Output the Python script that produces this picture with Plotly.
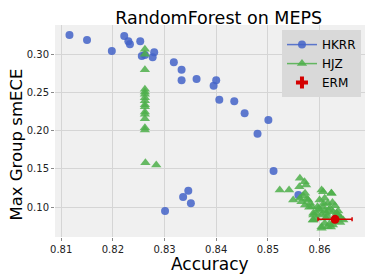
import plotly.graph_objects as go

hkrr_acc = [0.8116, 0.8150, 0.8198, 0.8222, 0.8230, 0.8233, 0.8253, 0.8256, 0.8262, 0.8277,
            0.8280, 0.8318, 0.8333, 0.8333, 0.8362, 0.8395, 0.8400, 0.8406, 0.8435, 0.8455,
            0.8501, 0.8480, 0.8511, 0.8559, 0.8346, 0.8336, 0.8351, 0.8301]
hkrr_ece = [0.3248, 0.3183, 0.3039, 0.3235, 0.3166, 0.3127, 0.3166, 0.2974, 0.2987, 0.2957,
            0.3022, 0.2892, 0.2795, 0.2657, 0.2674, 0.2586, 0.2657, 0.2404, 0.2382, 0.2226,
            0.2138, 0.1960, 0.1473, 0.1159, 0.1215, 0.1133, 0.1051, 0.0950]

hjz_acc = [0.8262, 0.8262, 0.8262, 0.8262, 0.8262, 0.8262, 0.8262, 0.8262, 0.8262, 0.8262,
           0.8262, 0.8262, 0.8262, 0.8262, 0.8262, 0.8263, 0.8284,
           0.8523, 0.8541, 0.8562, 0.8571, 0.8574, 0.8561, 0.8572, 0.8562, 0.8565, 0.8578,
           0.8582, 0.8585, 0.8588, 0.8587, 0.8607, 0.8623, 0.8600, 0.8610, 0.8616, 0.8596,
           0.8607, 0.8620, 0.8626, 0.8633, 0.8639, 0.8613, 0.8604, 0.8610, 0.8616, 0.8604,
           0.8626, 0.8646, 0.8594, 0.8594, 0.8549, 0.8572, 0.8588, 0.8588, 0.8604, 0.8623,
           0.8604, 0.8642, 0.8618, 0.8630, 0.8612, 0.8635, 0.8628, 0.8622, 0.8610, 0.8598,
           0.8615, 0.8640, 0.8625, 0.8608, 0.8619, 0.8636, 0.8601, 0.8580, 0.8576, 0.8568]
hjz_ece = [0.3061, 0.2996, 0.2795, 0.2539, 0.2504, 0.2474, 0.2430, 0.2391, 0.2338, 0.2312,
           0.2243, 0.2213, 0.2155, 0.2038, 0.2008, 0.1581, 0.1551,
           0.1225, 0.1225, 0.1377, 0.1333, 0.1290, 0.1268, 0.1181, 0.1116, 0.1072, 0.1094,
           0.1051, 0.1007, 0.0920, 0.0833, 0.1203, 0.1181, 0.1094, 0.1116, 0.1051, 0.1007,
           0.1007, 0.0986, 0.0942, 0.0920, 0.0877, 0.0920, 0.0899, 0.0790, 0.0746, 0.0725,
           0.0768, 0.0833, 0.0920, 0.0855, 0.1094, 0.1029, 0.0899, 0.0833, 0.1225, 0.1181,
           0.0746, 0.0855, 0.0960, 0.1020, 0.0860, 0.0900, 0.0810, 0.0740, 0.0950, 0.0980,
           0.0880, 0.0800, 0.1060, 0.1050, 0.0780, 0.0950, 0.0960, 0.1000, 0.1110, 0.1150]

erm_acc = [0.8630]
erm_ece = [0.0842]
erm_err = [0.0033]

BLUE = "rgba(67,99,200,0.85)"
GREEN = "rgba(77,175,74,0.85)"
RED = "#d40000"

fig = go.Figure()
fig.add_trace(go.Scatter(x=hkrr_acc, y=hkrr_ece, mode="markers", showlegend=False,
                         marker=dict(color=BLUE, size=8, line=dict(width=0))))
fig.add_trace(go.Scatter(x=hjz_acc, y=hjz_ece, mode="markers", showlegend=False,
                         marker=dict(color=GREEN, size=9, symbol="triangle-up", line=dict(width=0))))
fig.add_trace(go.Scatter(x=erm_acc, y=erm_ece, mode="markers", showlegend=False,
                         error_x=dict(type="data", array=erm_err, color=RED, thickness=1.5, width=2),
                         marker=dict(color=RED, size=9)))
# legend entries
fig.add_trace(go.Scatter(x=[None], y=[None], mode="lines+markers", name="HKRR",
                         line=dict(color=BLUE, width=1.5), marker=dict(color=BLUE, size=8)))
fig.add_trace(go.Scatter(x=[None], y=[None], mode="lines+markers", name="HJZ",
                         line=dict(color=GREEN, width=1.5),
                         marker=dict(color=GREEN, size=9, symbol="triangle-up")))
fig.add_trace(go.Scatter(x=[None], y=[None], mode="markers", name="ERM",
                         marker=dict(color=RED, size=10, symbol="cross")))

# the page body has an 8px margin, so the figure is 8px smaller and offset
fig.update_layout(
    width=366, height=272,
    margin=dict(l=47, r=9, t=17, b=43, autoexpand=False),
    paper_bgcolor="white", plot_bgcolor="#f0f0f0",
    font=dict(family="DejaVu Sans", color="#222222"),
    title=dict(text="RandomForest on MEPS", x=0.5756, xanchor="center", y=0.962, yanchor="middle",
               font=dict(size=17.5, color="black")),
    legend=dict(x=0.987, y=0.976, xanchor="right", yanchor="top", bgcolor="#d9d9d9",
                font=dict(size=12, color="black"), itemwidth=30, tracegroupgap=0,
                borderwidth=0),
    annotations=[
        dict(text="Accuracy", xref="paper", yref="paper", x=0.5, y=-0.125,
             xanchor="center", yanchor="middle", showarrow=False,
             font=dict(size=17, color="black")),
        dict(text="Max Group smECE", xref="paper", yref="paper", x=-0.124, y=0.434,
             xanchor="center", yanchor="middle", showarrow=False, textangle=-90,
             font=dict(size=16.5, color="black")),
    ],
)
fig.update_xaxes(range=[0.8088, 0.8688], tickvals=[0.81, 0.82, 0.83, 0.84, 0.85, 0.86],
                 ticktext=["0.81", "0.82", "0.83", "0.84", "0.85", "0.86"], automargin=False,
                 showgrid=True, gridcolor="#d5d5d5", gridwidth=1, zeroline=False,
                 ticks="outside", ticklen=3, tickcolor="#888888", tickfont=dict(size=10))
fig.update_yaxes(range=[0.0611, 0.3379], tickvals=[0.10, 0.15, 0.20, 0.25, 0.30],
                 ticktext=["0.10", "0.15", "0.20", "0.25", "0.30"], automargin=False,
                 showgrid=True, gridcolor="#d5d5d5", gridwidth=1, zeroline=False,
                 ticks="outside", ticklen=3, tickcolor="#888888", tickfont=dict(size=10))

fig.write_html("out.html")
